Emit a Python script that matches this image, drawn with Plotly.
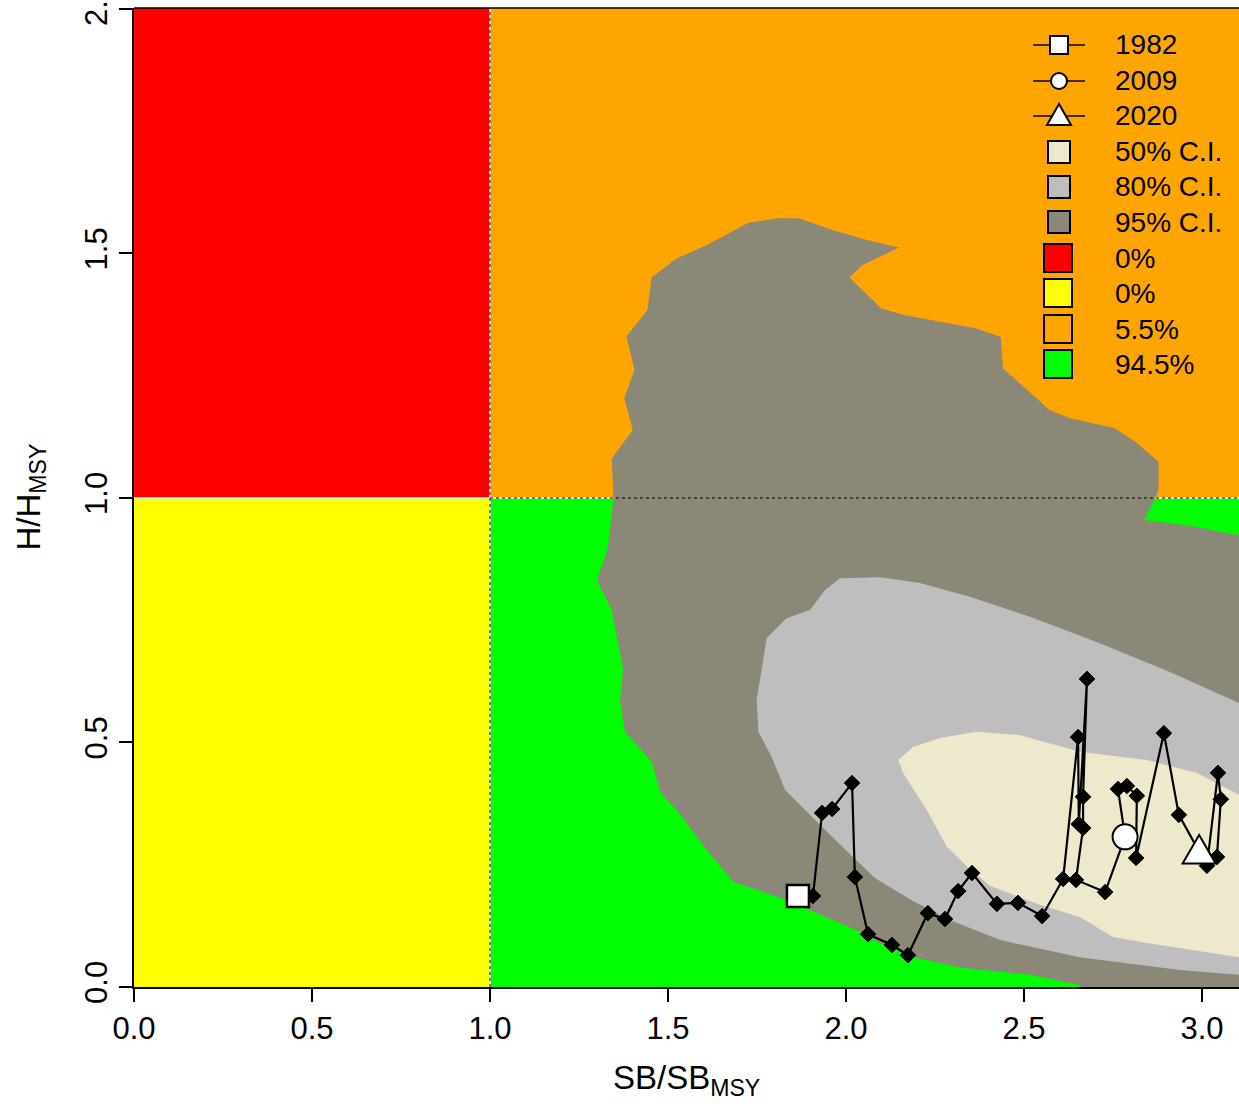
import plotly.graph_objects as go

# ---------------- data ----------------
# stock trajectory SB/SBmsy and H/Hmsy (first point = 1982, circle = 2009, last = 2020)
sb_ratio = [1.865, 1.907, 1.933, 1.961, 2.017, 2.025, 2.062, 2.129, 2.174, 2.230,
            2.278, 2.315, 2.354, 2.424, 2.483, 2.551, 2.610, 2.652, 2.654, 2.677,
            2.666, 2.666, 2.646, 2.728, 2.784, 2.764, 2.789, 2.817, 2.815, 2.893,
            2.935, 3.014, 3.045, 3.053, 3.042, 2.992]
h_ratio = [0.186, 0.186, 0.356, 0.364, 0.417, 0.225, 0.108, 0.086, 0.065, 0.151,
           0.139, 0.196, 0.233, 0.170, 0.172, 0.145, 0.221, 0.511, 0.333, 0.630,
           0.389, 0.325, 0.219, 0.194, 0.307, 0.405, 0.411, 0.391, 0.264, 0.519,
           0.352, 0.248, 0.438, 0.384, 0.266, 0.272]
key_years = ["1982", "2009", "2020"]
key_index = [0, 24, len(sb_ratio) - 1]

# confidence region outlines (SB/SBmsy, H/Hmsy)
ci95_x = [1.808, 1.868, 1.962, 2.056, 2.149, 2.045, 2.010, 2.098, 2.163, 2.364,
          2.435, 2.441, 2.524, 2.571, 2.630, 2.754, 2.813, 2.878, 2.878, 2.867,
          2.837, 2.966, 3.104, 3.200, 3.200, 2.685, 2.657, 2.517, 2.329, 2.188,
          2.096, 2.049, 1.908, 1.833, 1.683, 1.609, 1.524, 1.478, 1.454, 1.379,
          1.365, 1.374, 1.342, 1.300, 1.330, 1.347, 1.342, 1.401, 1.377, 1.406,
          1.383, 1.442, 1.454, 1.525, 1.608, 1.726]
ci95_y = [1.572, 1.572, 1.548, 1.528, 1.512, 1.476, 1.451, 1.388, 1.374, 1.347,
          1.329, 1.265, 1.211, 1.180, 1.163, 1.143, 1.115, 1.074, 1.016, 0.997,
          0.955, 0.943, 0.924, 0.905, -0.050, -0.050, 0.004, 0.025, 0.039, 0.061,
          0.089, 0.110, 0.154, 0.178, 0.215, 0.280, 0.362, 0.399, 0.461, 0.522,
          0.587, 0.648, 0.771, 0.832, 0.894, 0.998, 1.081, 1.139, 1.204, 1.262,
          1.330, 1.384, 1.451, 1.490, 1.517, 1.563]

ci80_x = [1.983, 2.096, 2.208, 2.348, 2.517, 2.713, 2.910, 3.104, 3.200, 3.200,
          3.104, 2.938, 2.657, 2.433, 2.292, 2.188, 2.081, 2.002, 1.907, 1.829,
          1.791, 1.754, 1.749, 1.763, 1.777, 1.833, 1.899, 1.941]
ci80_y = [0.836, 0.838, 0.826, 0.798, 0.757, 0.703, 0.644, 0.581, 0.545, 0.012,
          0.025, 0.035, 0.061, 0.096, 0.137, 0.176, 0.223, 0.278, 0.346, 0.403,
          0.471, 0.522, 0.587, 0.648, 0.713, 0.754, 0.771, 0.812]

ci50_x = [2.147, 2.188, 2.264, 2.367, 2.489, 2.657, 2.845, 2.985, 3.104, 3.200,
          3.200, 3.104, 2.845, 2.750, 2.657, 2.545, 2.404, 2.340, 2.283, 2.227,
          2.160]
ci50_y = [0.464, 0.491, 0.509, 0.522, 0.515, 0.481, 0.464, 0.438, 0.393, 0.360,
          0.052, 0.061, 0.090, 0.102, 0.143, 0.168, 0.207, 0.247, 0.287, 0.362,
          0.438]

ci_labels = ["50% C.I.", "80% C.I.", "95% C.I."]
quadrant_labels = ["0%", "0%", "5.5%", "94.5%"]   # red, yellow, orange, green

x_ticks = [0, 0.5, 1.0, 1.5, 2.0, 2.5, 3.0]
y_ticks = [0, 0.5, 1.0, 1.5, 2.0]
x_range = [0, 3.104]
y_range = [0, 2.002]

# ---------------- styles ----------------
RED, YELLOW, ORANGE, GREEN = "#FF0000", "#FFFF00", "#FFA500", "#00FF00"
C50, C80, C95 = "#EEE8CD", "#BEBEBE", "#8B8878"
FONT = "Arial, Liberation Sans, sans-serif"

W, H = 1239, 1106
ML, MR, MT, MB = 134, 0, 8, 119
PW, PH = W - ML - MR, H - MT - MB


def pxx(px):
    return (px - ML) / PW


def pxy(py):
    return (H - MB - py) / PH


fig = go.Figure()

# confidence regions
for xs, ys, col in [(ci95_x, ci95_y, C95), (ci80_x, ci80_y, C80), (ci50_x, ci50_y, C50)]:
    fig.add_trace(go.Scatter(x=xs, y=ys, fill="toself", fillcolor=col, mode="none",
                             hoverinfo="skip", showlegend=False))

# trajectory
fig.add_trace(go.Scatter(x=sb_ratio, y=h_ratio, mode="lines+markers",
                         line=dict(color="black", width=2.2),
                         marker=dict(symbol="diamond", size=12, color="black",
                                     line=dict(color="black", width=1)),
                         showlegend=False, hoverinfo="skip"))
i0, i1, i2 = key_index
fig.add_trace(go.Scatter(x=[sb_ratio[i0]], y=[h_ratio[i0]], mode="markers",
                         marker=dict(symbol="square", size=22, color="white",
                                     line=dict(color="black", width=2.5)),
                         showlegend=False, hoverinfo="skip"))
fig.add_trace(go.Scatter(x=[sb_ratio[i1]], y=[h_ratio[i1]], mode="markers",
                         marker=dict(symbol="circle", size=25, color="white",
                                     line=dict(color="black", width=2)),
                         showlegend=False, hoverinfo="skip"))

shapes = []
# quadrant backgrounds
for x0, x1, y0, y1, col in [(0, 1, 1, 10, RED), (0, 1, 0, 1, YELLOW),
                            (1, 10, 1, 10, ORANGE), (1, 10, 0, 1, GREEN)]:
    shapes.append(dict(type="rect", xref="x", yref="y", x0=x0, x1=x1, y0=y0, y1=y1,
                       fillcolor=col, line=dict(width=0), layer="below"))
# white separators
shapes.append(dict(type="line", xref="x", yref="y", x0=0, x1=10, y0=1, y1=1,
                   line=dict(color="white", width=1.5), layer="below"))
shapes.append(dict(type="line", xref="x", yref="y", x0=1, x1=1, y0=0, y1=10,
                   line=dict(color="white", width=1.5), layer="below"))
# dotted reference lines
shapes.append(dict(type="line", xref="x", yref="y", x0=1, x1=10, y0=1, y1=1,
                   line=dict(color="black", width=1, dash="dot"), layer="above"))
shapes.append(dict(type="line", xref="x", yref="y", x0=1, x1=1, y0=0, y1=10,
                   line=dict(color="black", width=1, dash="dot"), layer="above"))
# top box line
shapes.append(dict(type="line", xref="paper", yref="paper", x0=0, x1=1, y0=1, y1=1,
                   line=dict(color="black", width=1.5), layer="above"))

# 2020 triangle (equilateral) anchored on last data point
shapes.append(dict(type="path", xref="x", yref="y", xsizemode="pixel", ysizemode="pixel",
                   xanchor=sb_ratio[i2], yanchor=h_ratio[i2],
                   path="M -16.5,-9.5 L 16.5,-9.5 L 0,19 Z",
                   fillcolor="white", line=dict(color="black", width=2), layer="above"))

# ---------------- legend (manual) ----------------
row_y = [45, 81, 116, 152, 187, 222, 258, 293, 329, 364]
sym_x = 1059
text_x = 1113
annotations = []
labels = key_years + ci_labels + quadrant_labels
for i, lab in enumerate(labels):
    annotations.append(dict(xref="paper", yref="paper", x=pxx(text_x), y=pxy(row_y[i]),
                            text=lab, showarrow=False, xanchor="left", yanchor="middle",
                            font=dict(family=FONT, size=28, color="black")))

for i in range(3):
    shapes.append(dict(type="line", xref="paper", yref="paper", x0=pxx(1033), x1=pxx(1085),
                       y0=pxy(row_y[i]), y1=pxy(row_y[i]),
                       line=dict(color="black", width=1.5), layer="above"))
# square
shapes.append(dict(type="rect", xref="paper", yref="paper", xsizemode="pixel", ysizemode="pixel",
                   xanchor=pxx(sym_x), yanchor=pxy(row_y[0]), x0=-9, x1=9, y0=-9, y1=9,
                   fillcolor="white", line=dict(color="black", width=2), layer="above"))
# circle
shapes.append(dict(type="circle", xref="paper", yref="paper", xsizemode="pixel", ysizemode="pixel",
                   xanchor=pxx(sym_x), yanchor=pxy(row_y[1]), x0=-8, x1=8, y0=-8, y1=8,
                   fillcolor="white", line=dict(color="black", width=2), layer="above"))
# triangle
shapes.append(dict(type="path", xref="paper", yref="paper", xsizemode="pixel", ysizemode="pixel",
                   xanchor=pxx(sym_x), yanchor=pxy(row_y[2] + 2),
                   path="M -12,-7 L 12,-7 L 0,14 Z",
                   fillcolor="white", line=dict(color="black", width=2), layer="above"))
for i, col in zip([3, 4, 5], [C50, C80, C95]):
    shapes.append(dict(type="rect", xref="paper", yref="paper", xsizemode="pixel", ysizemode="pixel",
                       xanchor=pxx(sym_x), yanchor=pxy(row_y[i]), x0=-11, x1=11, y0=-11, y1=11,
                       fillcolor=col, line=dict(color="black", width=2), layer="above"))
for i, col in zip([6, 7, 8, 9], [RED, YELLOW, ORANGE, GREEN]):
    shapes.append(dict(type="rect", xref="paper", yref="paper", xsizemode="pixel", ysizemode="pixel",
                       xanchor=pxx(sym_x - 1), yanchor=pxy(row_y[i]), x0=-14, x1=14, y0=-14, y1=14,
                       fillcolor=col, line=dict(color="black", width=2), layer="above"))

# axis titles
annotations.append(dict(xref="paper", yref="paper", x=0.5, y=pxy(1080), showarrow=False,
                        text="SB/SB<sub>MSY</sub>", xanchor="center", yanchor="middle",
                        font=dict(family=FONT, size=33, color="black")))
annotations.append(dict(xref="paper", yref="paper", x=pxx(30), y=0.5, showarrow=False,
                        text="H/H<sub>MSY</sub>", xanchor="center", yanchor="middle",
                        textangle=-90, font=dict(family=FONT, size=33, color="black")))

fig.update_layout(
    width=W, height=H,
    margin=dict(l=ML, r=MR, t=MT, b=MB, pad=0, autoexpand=False),
    paper_bgcolor="white", plot_bgcolor="white",
    showlegend=False,
    shapes=shapes, annotations=annotations,
    font=dict(family=FONT, color="black"),
    xaxis=dict(range=x_range, tickvals=x_ticks, tickformat=".1f", ticks="outside",
               ticklen=13, tickwidth=1.5, tickcolor="black", showline=True,
               linecolor="black", linewidth=1.5, showgrid=False, zeroline=False,
               ticklabeloverflow="allow", automargin=False,
               tickfont=dict(family=FONT, size=31, color="black")),
    yaxis=dict(range=y_range, tickvals=y_ticks, tickformat=".1f", ticks="outside",
               ticklen=13, tickwidth=1.5, tickcolor="black", showline=True,
               linecolor="black", linewidth=1.5, showgrid=False, zeroline=False,
               tickangle=-90, ticklabeloverflow="allow", automargin=False,
               tickfont=dict(family=FONT, size=31, color="black")),
)

fig.write_html("out.html", config={"displayModeBar": False},
               post_script="document.body.style.margin='0';")
